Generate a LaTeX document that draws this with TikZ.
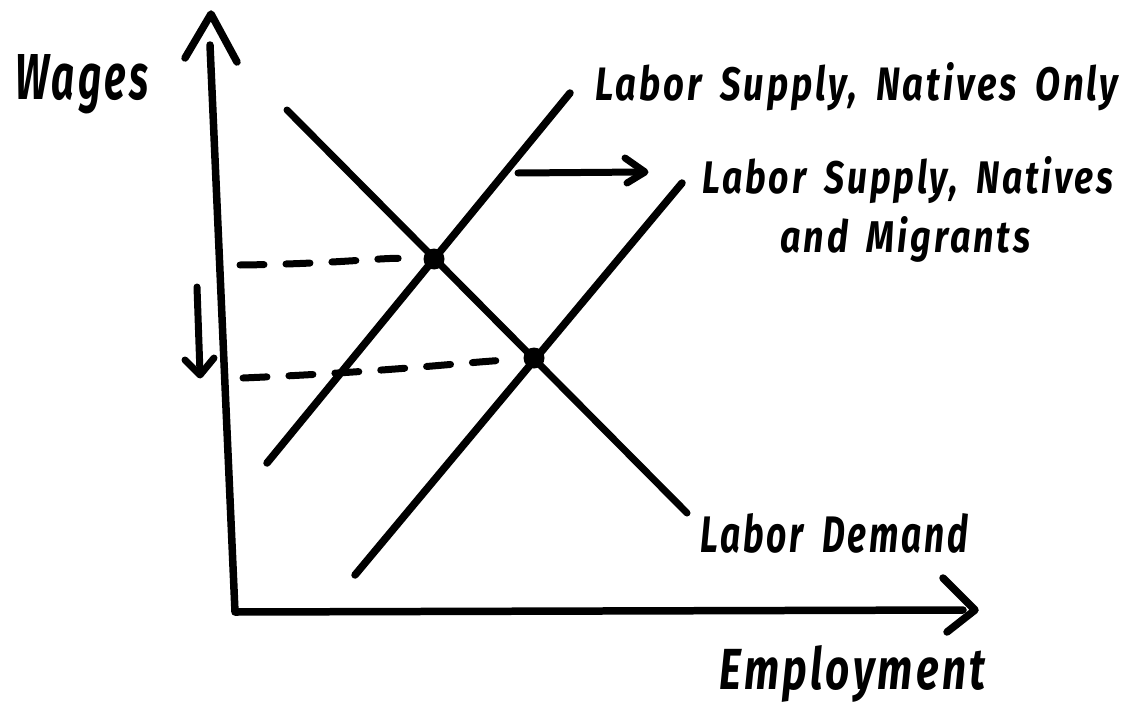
\documentclass[tikz,border=0pt]{standalone}
\usepackage{fontspec}
\setmainfont{Fira Sans}[BoldItalicFeatures={LetterSpace=8,WordSpace=1.7}]
\usepackage{graphicx}
\newlength\pxu
\setlength\pxu{0.02cm}
\newcommand\lbl[3]{\resizebox{#1\pxu}{#2\pxu}{\bfseries\itshape #3}}
\begin{document}
\begin{tikzpicture}[x=0.02cm,y=-0.02cm,
  ink/.style={line width=0.15cm,line cap=round,line join=round},
  thinink/.style={line width=0.14cm,line cap=round,line join=round},
  dashink/.style={line width=0.14cm,line cap=round,dash pattern=on 0.48cm off 0.44cm},
  eqdot/.style={circle,fill=black,inner sep=0pt,minimum size=0.42cm},
  lab/.style={inner sep=0pt,anchor=base west}]
\useasboundingbox (0,0) rectangle (1131,706);
% axes
\coordinate (O) at (235,612);
\coordinate (ytop) at (210,45);
\coordinate (xend) at (963,610);
\draw[ink] (ytop) -- (O) -- (xend);
\coordinate (ya1) at (185,58);
\coordinate (yap) at (211,14);
\coordinate (ya2) at (237,62);
\draw[ink] (ya1) -- (yap) -- (ya2);
\coordinate (xa1) at (943,578);
\coordinate (xap) at (975,610);
\coordinate (xa2) at (947,632);
\draw[ink] (xa1) -- (xap) -- (xa2);
% curves
\coordinate (d1) at (287,110);
\coordinate (d2) at (687,513);
\coordinate (s1a) at (267,463);
\coordinate (s1b) at (570,93);
\coordinate (s2a) at (355,575);
\coordinate (s2b) at (682,183);
\draw[thinink] (d1) -- (d2);
\draw[ink] (s1a) -- (s1b);
\draw[ink] (s2a) -- (s2b);
% equilibria
\node[eqdot] (e1) at (434,259) {};
\node[eqdot] (e2) at (534,358) {};
% dashed guides
\coordinate (g1) at (240,265);
\coordinate (g2) at (243,378);
\draw[dashink,shorten >=0.5cm] (g1) .. controls (330,264) and (380,258) .. (e1);
\draw[dashink,shorten >=0.55cm] (g2) .. controls (380,372) and (450,364) .. (e2);
% shift arrows
\coordinate (da1) at (197,287);
\coordinate (da2) at (200,373);
\draw[thinink] (da1) -- (da2);
\coordinate (dh1) at (185,360);
\coordinate (dh2) at (214,358);
\draw[thinink] (dh1) -- (200,375) -- (dh2);
\coordinate (ra1) at (518,173);
\coordinate (ra2) at (643,172);
\draw[thinink] (ra1) -- (ra2);
\coordinate (rh1) at (625,158);
\coordinate (rh2) at (627,183);
\draw[thinink] (rh1) -- (645,172) -- (rh2);
% labels
\node[lab] (wages) at (15,100) {\lbl{133}{45}{Wages}};
\node[lab] (ls1) at (595,100) {\lbl{523}{38}{Labor Supply, Natives Only}};
\node[lab] (ls2) at (702,193) {\lbl{411}{37}{Labor Supply, Natives}};
\node[lab] (ls2b) at (780,252) {\lbl{250}{36}{and Migrants}};
\node[lab] (ld) at (700,552) {\lbl{268}{39}{Labor Demand}};
\node[lab] (emp) at (719,689) {\lbl{266}{44}{Employment}};
\end{tikzpicture}
\end{document}
